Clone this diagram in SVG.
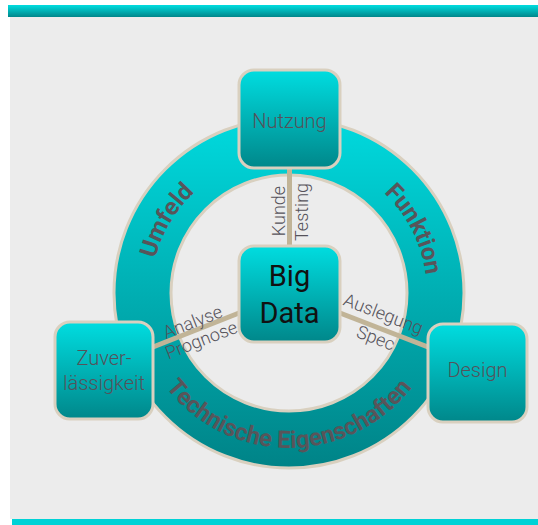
<svg xmlns="http://www.w3.org/2000/svg" width="538" height="525" viewBox="0 0 538 525">
  <defs>
    <linearGradient id="gBox" x1="0" y1="0" x2="0" y2="1">
      <stop offset="0" stop-color="#00dde0"/>
      <stop offset="1" stop-color="#00878a"/>
    </linearGradient>
    <linearGradient id="gRing" gradientUnits="userSpaceOnUse" x1="0" y1="118" x2="0" y2="468">
      <stop offset="0" stop-color="#00dade"/>
      <stop offset="1" stop-color="#008387"/>
    </linearGradient>
    <linearGradient id="gBar" x1="0" y1="0" x2="0" y2="1">
      <stop offset="0" stop-color="#00dde0"/>
      <stop offset="1" stop-color="#00868a"/>
    </linearGradient>
    <path id="arcTop" d="M 151 293 A 138 138 0 0 1 427 293"/>
    <path id="arcBottom" d="M 134 293 A 155 155 0 0 0 444 293"/>
    <style>
      .box { fill: url(#gBox); stroke: #d9d0bf; stroke-width: 3; }
      .conn { stroke: #c1b497; stroke-width: 5; fill: none; }
      .lbl { font-family: Roboto, "Liberation Sans", sans-serif; font-size: 18px; font-weight: 300; fill: #55525a; text-anchor: middle; }
      .ntxt { font-family: Roboto, "Liberation Sans", sans-serif; font-size: 20px; font-weight: 300; fill: #55525a; text-anchor: middle; }
      .big { font-family: Roboto, "Liberation Sans", sans-serif; font-size: 29px; fill: #111111; text-anchor: middle; }
      .ring { font-family: Roboto, "Liberation Sans", sans-serif; font-size: 24px; font-weight: bold; fill: #58555a; text-anchor: middle; }
    </style>
  </defs>

  <rect x="0" y="0" width="538" height="525" fill="#ffffff"/>
  <rect x="10" y="17" width="528" height="502" fill="#ececec"/>
  <rect x="8" y="5" width="530" height="12" fill="url(#gBar)"/>
  <rect x="12" y="519" width="526" height="6" fill="#00d2d6"/>

  <g id="ring">
    <path d="M 114 293 A 175 175 0 1 0 464 293 A 175 175 0 1 0 114 293 Z M 171 293 A 118 118 0 1 1 407 293 A 118 118 0 1 1 171 293 Z" fill="url(#gRing)" fill-rule="evenodd" stroke="#d9d0bf" stroke-width="3"/>
    <text class="ring"><textPath href="#arcTop" startOffset="17%">Umfeld</textPath></text>
    <text class="ring"><textPath href="#arcTop" startOffset="85%">Funktion</textPath></text>
    <text class="ring"><textPath href="#arcBottom" startOffset="50%">Technische Eigenschaften</textPath></text>
  </g>

  <g id="connectors">
    <line class="conn" x1="289.5" y1="168" x2="289.5" y2="246"/>
    <line class="conn" x1="153" y1="347" x2="239" y2="313"/>
    <line class="conn" x1="340" y1="313" x2="428" y2="347"/>
    <text class="lbl" transform="translate(285,211) rotate(-90)">Kunde</text>
    <text class="lbl" transform="translate(308,212) rotate(-90)">Testing</text>
    <text class="lbl" transform="translate(193,323) rotate(-21.3)" y="5">Analyse</text>
    <text class="lbl" transform="translate(202,342) rotate(-21.3)" y="4">Prognose</text>
    <text class="lbl" transform="translate(383,315) rotate(20.9)" y="5">Auslegung</text>
    <text class="lbl" transform="translate(375,340) rotate(20.9)" y="4">Spec</text>
  </g>

  <g id="nutzung">
    <rect class="box" x="239" y="70" width="101" height="98" rx="15"/>
    <text class="ntxt" x="289.5" y="128">Nutzung</text>
  </g>
  <g id="bigdata">
    <rect class="box" x="239" y="246" width="101" height="96" rx="15"/>
    <text class="big" x="289.5" y="286">Big</text>
    <text class="big" x="289.5" y="323">Data</text>
  </g>
  <g id="zuverlaessigkeit">
    <rect class="box" x="55" y="322" width="98" height="97" rx="15"/>
    <text class="ntxt" x="104" y="365">Zuver-</text>
    <text class="ntxt" x="104" y="390">lässigkeit</text>
  </g>
  <g id="design">
    <rect class="box" x="428" y="324" width="99" height="98" rx="15"/>
    <text class="ntxt" x="477.5" y="377">Design</text>
  </g>
</svg>
